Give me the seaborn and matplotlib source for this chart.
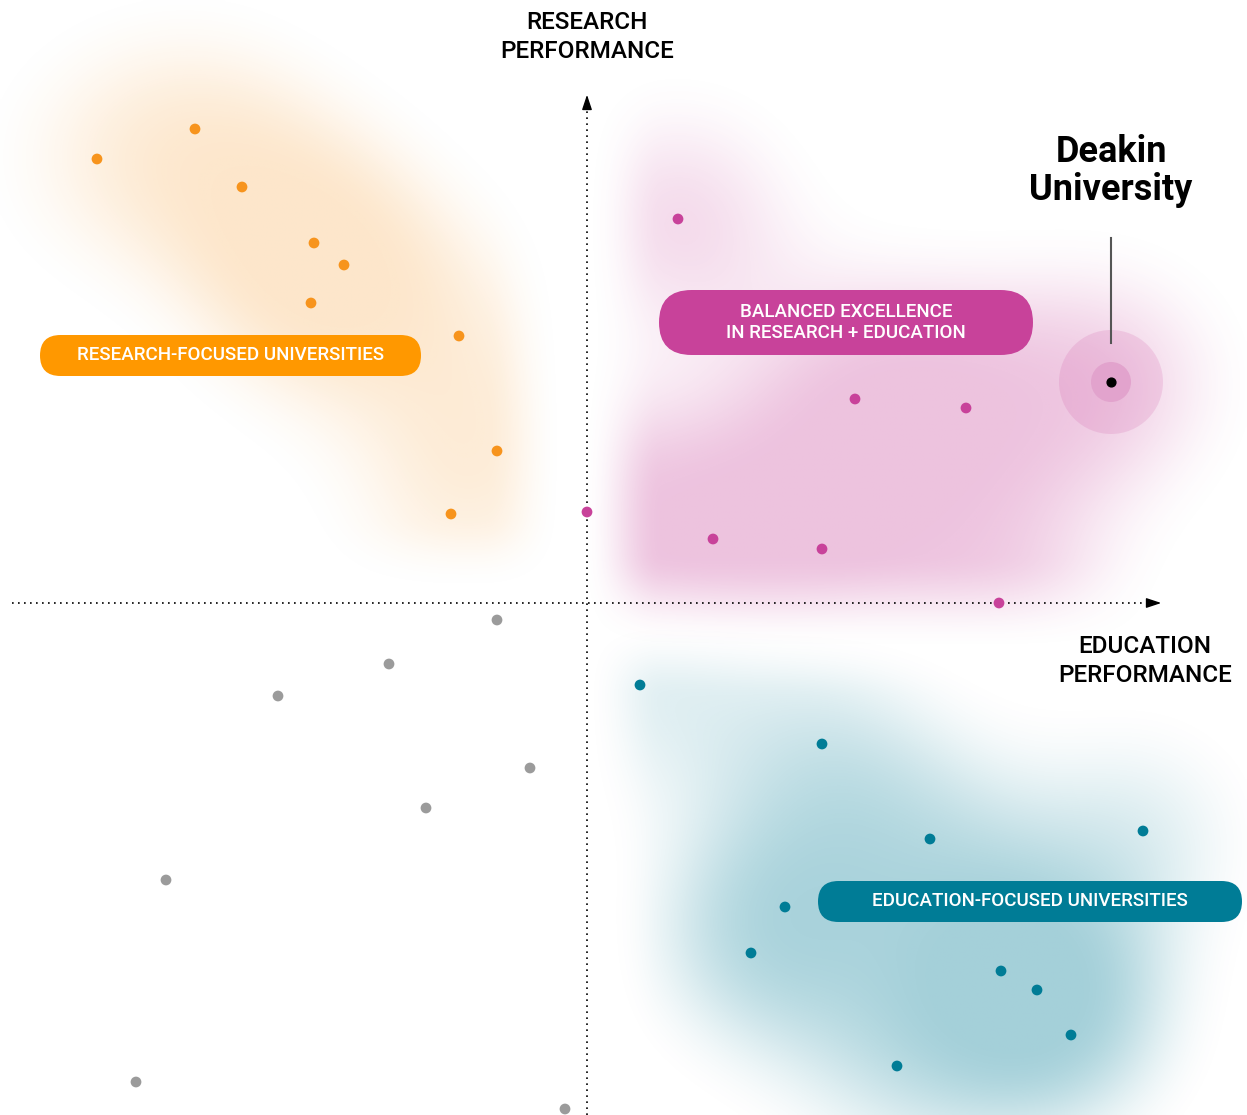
import numpy as np
import pandas as pd
import seaborn as sns
import matplotlib.pyplot as plt
from matplotlib.colors import to_rgb
from matplotlib.patches import FancyBboxPatch, Circle

# education performance (x) / research performance (y), origin at the axes cross
research_x = [-4.90, -3.92, -3.45, -2.73, -2.43, -2.76, -1.28, -0.90, -1.36]
research_y = [4.44, 4.74, 4.16, 3.60, 3.38, 3.00, 2.67, 1.52, 0.89]

balanced_x = [0.91, 2.68, 3.79, 0.00, 1.26, 2.35, 4.12]
balanced_y = [3.84, 2.04, 1.95, 0.91, 0.64, 0.54, 0.00]

other_x = [-0.90, -1.98, -3.09, -0.57, -1.61, -4.21, -4.51, -0.22]
other_y = [-0.17, -0.61, -0.93, -1.65, -2.05, -2.77, -4.79, -5.06]

education_x = [0.53, 2.35, 3.43, 5.56, 1.98, 1.64, 4.14, 4.50, 4.84, 3.10]
education_y = [-0.82, -1.41, -2.36, -2.28, -3.04, -3.50, -3.68, -3.87, -4.32, -4.63]

deakin = (5.24, 2.21)

palette = {'research': '#F7941D', 'balanced': '#C8429A',
           'other': '#9B9B9B', 'education': '#007C96'}
pill_colors = {'research': '#FF9800', 'balanced': '#C8429A', 'education': '#007C96'}

df = pd.concat([
    pd.DataFrame({'edu': research_x, 'res': research_y, 'group': 'research'}),
    pd.DataFrame({'edu': balanced_x, 'res': balanced_y, 'group': 'balanced'}),
    pd.DataFrame({'edu': other_x, 'res': other_y, 'group': 'other'}),
    pd.DataFrame({'edu': education_x, 'res': education_y, 'group': 'education'}),
], ignore_index=True)

XLIM = (-5.87, 6.60)
YLIM = (-5.12, 6.03)


def px(x, y):
    # pixel position in the 1247x1115 canvas -> data coords
    return (x - 587) / 100, (603 - y) / 100


def smooth(t):
    t = np.clip(t, 0, 1)
    return t * t * (3 - 2 * t)


def cloud(ax, xs, ys, color, amax, mask, sigma=0.9, lo=0.16, hi=0.9):
    # soft density cloud around a group's points (isotropic gaussian sum)
    gx = np.linspace(*XLIM, 500)
    gy = np.linspace(*YLIM, 450)
    X, Y = np.meshgrid(gx, gy)
    d = np.zeros_like(X)
    for x, y in zip(xs, ys):
        d += np.exp(-((X - x) ** 2 + (Y - y) ** 2) / (2 * sigma ** 2))
    d = (d / d.max()) ** 0.8
    a = amax * smooth((d - lo) / (hi - lo)) * mask(X, Y)
    rgba = np.zeros(X.shape + (4,))
    rgba[..., :3] = to_rgb(color)
    rgba[..., 3] = a
    ax.imshow(rgba, extent=(*XLIM, *YLIM), origin='lower', aspect='auto',
              interpolation='bilinear', zorder=0)


fig = plt.figure(figsize=(12.47, 11.15), dpi=100, facecolor='white')
ax = fig.add_axes([0, 0, 1, 1])

cloud(ax, research_x, research_y, palette['research'], 0.23,
      lambda X, Y: smooth((-X - 0.2) / 0.8) * smooth((Y - 0.05) / 0.8))
cloud(ax, balanced_x + [deakin[0]], balanced_y + [deakin[1]], palette['balanced'], 0.32,
      lambda X, Y: smooth((X + 0.05) / 0.8) * smooth((Y + 0.5) / 1.0))
cloud(ax, education_x, education_y, palette['education'], 0.36,
      lambda X, Y: smooth((X + 0.05) / 0.8) * smooth((-Y - 0.15) / 0.8))

ax.set_xlim(*XLIM)
ax.set_ylim(*YLIM)
ax.axis('off')

# dotted axes with arrow heads
x0, _ = px(12, 603)
x1, _ = px(1152, 603)
ax.plot([x0, x1], [0, 0], color='black', lw=1.2, ls=(0, (1, 2.6)), zorder=2)
_, y0 = px(587, 1115)
_, y1 = px(587, 104)
ax.plot([0, 0], [y0, y1], color='black', lw=1.2, ls=(0, (1, 2.6)), zorder=2)
ax.annotate('', xy=px(1164, 603), xytext=px(1150, 603),
            arrowprops=dict(arrowstyle='-|>,head_length=0.9,head_width=0.3',
                            color='black', lw=1), zorder=3)
ax.annotate('', xy=px(587, 92), xytext=px(587, 106),
            arrowprops=dict(arrowstyle='-|>,head_length=0.9,head_width=0.3',
                            color='black', lw=1), zorder=3)

# points
sns.scatterplot(data=df, x='edu', y='res', hue='group', palette=palette,
                s=60, linewidth=0, legend=False, ax=ax, zorder=4)
ax.set_xlabel('')
ax.set_ylabel('')

# Deakin marker
ax.add_patch(Circle(deakin, 0.52, color='#C8429A', alpha=0.15, lw=0, zorder=5))
ax.add_patch(Circle(deakin, 0.20, color='#E2A3CD', lw=0, zorder=6))
ax.scatter([deakin[0]], [deakin[1]], s=40, color='black', zorder=7)
ax.plot([deakin[0], deakin[0]], [px(0, 343)[1], px(0, 238)[1]],
        color='#555555', lw=1.5, zorder=7)
ax.text(*px(1111, 171), 'Deakin\nUniversity', ha='center', va='center',
        fontsize=26, fontweight='bold', linespacing=1.1, color='black',
        family='Roboto')

# axis titles
ax.text(*px(587, 37), 'RESEARCH\nPERFORMANCE', ha='center', va='center',
        fontsize=17.5, linespacing=1.3, family='Roboto', fontweight='medium')
ax.text(*px(1145, 661), 'EDUCATION\nPERFORMANCE', ha='center', va='center',
        fontsize=17.5, linespacing=1.3, family='Roboto', fontweight='medium')


def pill(left, top, right, bottom, color, label):
    xa, ya = px(left, bottom)
    xb, yb = px(right, top)
    h = yb - ya
    ax.add_patch(FancyBboxPatch((xa, ya), xb - xa, h,
                                boxstyle=f'round,pad=0,rounding_size={h / 2}',
                                fc=color, ec='none', zorder=8))
    ax.text((xa + xb) / 2, (ya + yb) / 2, label, ha='center', va='center',
            color='white', fontsize=13.5, family='Roboto', linespacing=1.25,
            fontweight='medium', zorder=9)


pill(40, 335, 421, 376, pill_colors['research'], 'RESEARCH-FOCUSED UNIVERSITIES')
pill(659, 290, 1033, 355, pill_colors['balanced'],
     'BALANCED EXCELLENCE\nIN RESEARCH + EDUCATION')
pill(818, 881, 1242, 922, pill_colors['education'], 'EDUCATION-FOCUSED UNIVERSITIES')

fig.savefig('out.png', dpi=100, facecolor='white')
